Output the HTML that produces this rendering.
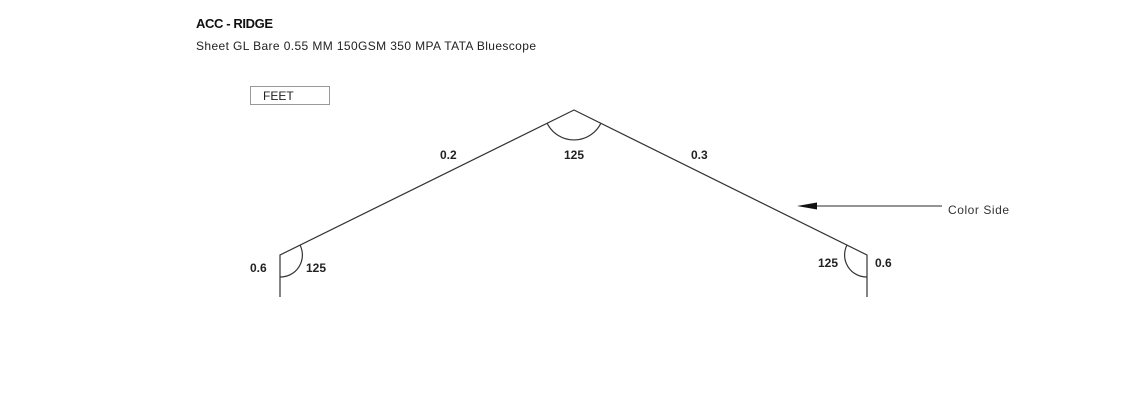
<!DOCTYPE html>
<html><head><meta charset="utf-8"><style>
html,body{margin:0;padding:0;background:#fff;}
body{width:1138px;height:415px;position:relative;overflow:hidden;font-family:"Liberation Sans",sans-serif;}
</style></head><body>
<svg width="1138" height="415" style="position:absolute;left:0;top:0" font-family="Liberation Sans, sans-serif">
<text x="196" y="28" font-size="13" font-weight="bold" fill="#111" textLength="77">ACC - RIDGE</text>
<text x="196" y="50" font-size="12" fill="#222" textLength="340">Sheet GL Bare 0.55 MM 150GSM 350 MPA TATA Bluescope</text>
<rect x="250.5" y="86.5" width="79" height="18" fill="#fff" stroke="#999" stroke-width="1"/>
<text x="263" y="100" font-size="12" fill="#222">FEET</text>
<g stroke="#333" stroke-width="1.2" fill="none">
<polyline points="280,297 280,255 574,110 867,255 867,297"/>
<path d="M547,123 A30,30 0 0 0 601,123"/>
<path d="M300,245 A22,22 0 0 1 280,277"/>
<path d="M847,245 A22,22 0 0 0 867,277"/>
<line x1="812" y1="206" x2="942" y2="206" stroke="#555"/>
</g>
<polygon points="797,206 817,202.5 817,209.5" fill="#111"/>
<g font-size="12" font-weight="bold" fill="#222">
<text x="440" y="159">0.2</text>
<text x="564" y="159">125</text>
<text x="691" y="159">0.3</text>
<text x="250" y="272">0.6</text>
<text x="306" y="272">125</text>
<text x="818" y="267">125</text>
<text x="875" y="267">0.6</text>
</g>
<text x="948" y="214" font-size="12" fill="#333" textLength="61">Color Side</text>
</svg>
</body></html>
